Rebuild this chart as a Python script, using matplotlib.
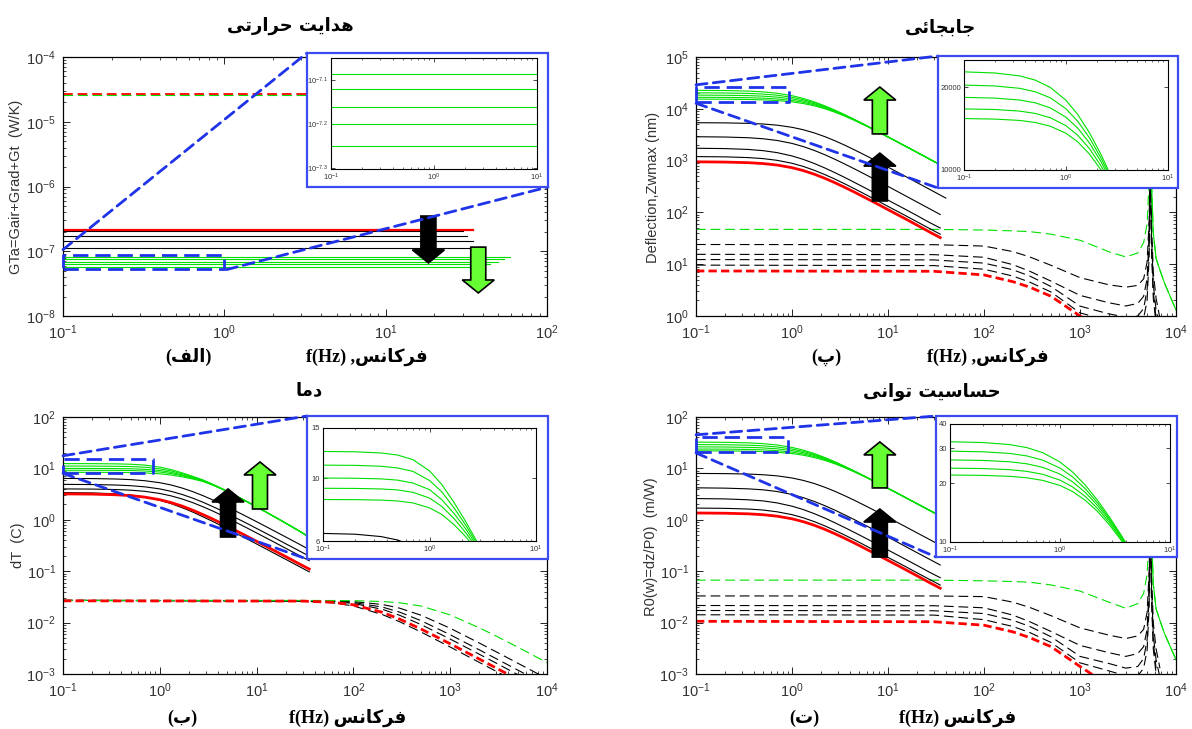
import numpy as np
import matplotlib
matplotlib.use('Agg')
import matplotlib.pyplot as plt
from matplotlib.patches import Rectangle, Polygon, ConnectionPatch
from matplotlib.ticker import LogLocator, NullFormatter, FixedLocator, FixedFormatter, NullLocator

nan = np.nan

# ======================= DATA =======================
# ---- (a) thermal conductance GTa: flat levels and end frequencies ----
tl_start = 0.1
tl_red_level = 2.1e-7
tl_red_end = 35
tl_black_levels = [2.02e-7, 1.74e-7, 1.46e-7, 1.12e-7]
tl_black_ends = [30, 32, 35, 35]
tl_green_levels = [8.18e-8, 7.55e-8, 6.89e-8, 6.31e-8, 5.62e-8]
tl_green_ends = [59, 54, 49.5, 44.6, 41]
tl_dash_red = 2.67e-5
tl_dash_green = 2.6e-5
tl_dash_end = 100

# ---- solid-curve frequency grid (Hz) ----
f_solid = [0.1, 0.2, 0.35, 0.5, 0.7, 1, 1.3, 1.7, 2.2, 2.8,
           3.5, 4.5, 6, 8, 11, 15, 20, 27, 35, 40]

# ---- (p) deflection, solid ----
tr_green = [
    [22730, 22520, 21980, 21210, 19970, 17910, 15930, 13650, 11400, 9420,
     7780, 6190, 4720, 3575, 2615, 1924, 1446, 1071, 827, 723],
    [20350, 20200, 19810, 19240, 18300, 16680, 15050, 13080, 11060, 9230,
     7670, 6140, 4700, 3565, 2611, 1923, 1445, 1071, 827, 724],
    [18360, 18250, 17960, 17540, 16820, 15550, 14210, 12530, 10730, 9040,
     7570, 6100, 4690, 3565, 2616, 1928, 1448, 1075, 830, 726],
    [16670, 16590, 16370, 16050, 15490, 14480, 13380, 11950, 10360, 8820,
     7430, 6020, 4650, 3550, 2610, 1925, 1448, 1074, 830, 726],
    [15380, 15310, 15140, 14880, 14430, 13600, 12670, 11420, 10010, 8580,
     7290, 5940, 4600, 3520, 2590, 1915, 1441, 1070, 826, 723],
]
tr_black = [
    [5387, 5346, 5239, 5086, 4830, 4394, 3957, 3433, 2899, 2415,
     2006, 1604, 1227, 931, 682, 502, 377, 280, 216, 189],
    [2888, 2853, 2763, 2640, 2447, 2146, 1873, 1575, 1297, 1060,
     869, 688, 523, 395, 289, 212, 159, 118, 91, nan],
    [1731, 1706, 1642, 1556, 1425, 1230, 1061, 882, 720, 585,
     478, 377, 286, 216, 157, 116, 87, 64, 50, nan],
    [1195, 1181, 1143, 1092, 1012, 888, 775, 652, 537, 439,
     360, 285, 216, 163, 119, 88, 66, 49, 38, nan],
]
tr_red = [947, 937, 912, 877, 821, 730, 644, 548, 455, 374,
          308, 245, 186, 141, 103, 76, 57, 42, 32.6, nan]

# ---- (t) power sensitivity, solid ----
br_green = [
    [32.47, 32.17, 31.4, 30.3, 28.53, 25.59, 22.76, 19.5, 16.29, 13.46,
     11.11, 8.84, 6.74, 5.11, 3.74, 2.75, 2.07, 1.53, 1.18, 1.03],
    [29.07, 28.86, 28.3, 27.49, 26.14, 23.83, 21.5, 18.69, 15.8, 13.19,
     10.96, 8.77, 6.71, 5.09, 3.73, 2.75, 2.06, 1.53, 1.18, 1.03],
    [26.23, 26.07, 25.66, 25.06, 24.03, 22.21, 20.3, 17.9, 15.33, 12.91,
     10.81, 8.71, 6.7, 5.09, 3.74, 2.75, 2.07, 1.54, 1.19, 1.04],
    [23.81, 23.7, 23.39, 22.93, 22.13, 20.69, 19.11, 17.07, 14.8, 12.6,
     10.61, 8.6, 6.64, 5.07, 3.73, 2.75, 2.07, 1.53, 1.19, 1.04],
    [21.97, 21.87, 21.63, 21.26, 20.61, 19.43, 18.1, 16.31, 14.3, 12.26,
     10.41, 8.49, 6.57, 5.03, 3.7, 2.74, 2.06, 1.53, 1.18, 1.03],
]
br_black = [
    [7.98, 7.92, 7.76, 7.53, 7.16, 6.51, 5.86, 5.09, 4.29, 3.58,
     2.97, 2.38, 1.82, 1.38, 1.01, 0.744, 0.559, 0.415, 0.32, nan],
    [4.19, 4.13, 4.0, 3.83, 3.55, 3.11, 2.71, 2.28, 1.88, 1.54,
     1.26, 1.0, 0.758, 0.572, 0.419, 0.307, 0.23, 0.171, 0.132, nan],
    [2.59, 2.55, 2.45, 2.33, 2.13, 1.84, 1.59, 1.32, 1.08, 0.874,
     0.714, 0.564, 0.428, 0.323, 0.235, 0.173, 0.13, 0.0957, 0.0747, nan],
    [1.69, 1.67, 1.62, 1.55, 1.43, 1.26, 1.1, 0.924, 0.761, 0.622,
     0.51, 0.404, 0.306, 0.231, 0.169, 0.125, 0.0935, 0.0694, 0.0538, nan],
]
br_red = [1.357, 1.342, 1.307, 1.256, 1.176, 1.046, 0.923, 0.785, 0.652, 0.536,
          0.441, 0.351, 0.266, 0.202, 0.148, 0.109, 0.0817, 0.0602, 0.0467, nan]

# ---- (b) temperature, solid ----
bl_green = [
    [12.4, 12.37, 12.25, 12.05, 11.6, 10.6, 9.5, 8.2, 7.0, 5.95,
     4.95, 3.95, 3.0, 2.25, 1.62, 1.17, 0.86, 0.62, 0.46, nan],
    [11.1, 11.08, 11.0, 10.85, 10.55, 9.8, 8.95, 7.85, 6.8, 5.85,
     4.9, 3.93, 2.99, 2.25, 1.62, 1.17, 0.86, 0.62, 0.46, nan],
    [10.0, 9.98, 9.93, 9.83, 9.6, 9.1, 8.4, 7.5, 6.6, 5.75,
     4.85, 3.91, 2.98, 2.24, 1.62, 1.17, 0.86, 0.62, 0.46, nan],
    [9.2, 9.19, 9.15, 9.08, 8.9, 8.5, 7.95, 7.2, 6.4, 5.65,
     4.8, 3.89, 2.97, 2.24, 1.62, 1.17, 0.86, 0.62, 0.46, nan],
    [8.4, 8.39, 8.36, 8.3, 8.17, 7.85, 7.45, 6.85, 6.2, 5.55,
     4.75, 3.87, 2.96, 2.23, 1.62, 1.17, 0.86, 0.62, 0.46, nan],
]
bl_black = [
    [6.38, 6.34, 6.22, 6.05, 5.76, 5.27, 4.77, 4.15, 3.52, 2.94,
     2.45, 1.96, 1.5, 1.14, 0.837, 0.616, 0.463, 0.343, 0.265, nan],
    [4.89, 4.85, 4.75, 4.61, 4.38, 3.99, 3.59, 3.11, 2.63, 2.19,
     1.82, 1.46, 1.11, 0.845, 0.619, 0.456, 0.342, 0.254, 0.196, nan],
    [3.99, 3.96, 3.88, 3.77, 3.58, 3.25, 2.93, 2.54, 2.15, 1.79,
     1.49, 1.19, 0.909, 0.69, 0.505, 0.372, 0.279, 0.207, 0.16, nan],
    [3.38, 3.33, 3.21, 3.04, 2.79, 2.40, 2.07, 1.72, 1.41, 1.14,
     0.934, 0.737, 0.559, 0.422, 0.308, 0.226, 0.17, 0.126, 0.097, nan],
]
bl_red = [3.19, 3.16, 3.07, 2.95, 2.76, 2.46, 2.17, 1.85, 1.53, 1.26,
          1.04, 0.825, 0.628, 0.475, 0.347, 0.255, 0.192, 0.142, 0.11, nan]

# ---- (b) temperature, dashed ----
f_bl_dash = [0.1, 30, 60, 100, 200, 300, 500, 1000, 2000, 3000, 5000, 7000, 10000]
bl_green_d = [0.027, 0.027, 0.0269, 0.0267, 0.0257, 0.0243, 0.021, 0.0141, 0.0079, 0.00545, 0.00332, 0.00238, 0.00167]
bl_black_d = [
    [0.027, 0.0268, 0.0265, 0.0256, 0.0225, 0.0191, 0.0139, 0.00776, 0.004, 0.00269, 0.00162, 0.00116, 0.00081],
    [0.027, 0.0267, 0.026, 0.0246, 0.02, 0.016, 0.0109, 0.0058, 0.00295, 0.00198, 0.00119, 0.00085, 0.0006],
    [0.027, 0.0266, 0.0256, 0.0236, 0.0181, 0.0139, 0.00915, 0.00478, 0.00242, 0.00162, 0.00097, 0.0007, nan],
    [0.027, 0.0262, 0.0243, 0.0211, 0.0143, 0.0104, 0.00655, 0.00335, 0.00168, 0.00112, 0.00068, nan, nan],
]
bl_red_d = [0.0265, 0.0262, 0.0249, 0.0222, 0.0158, 0.0117, 0.0075, 0.00387, 0.00195, 0.0013, 0.00078, nan, nan]

# ---- (p) / (t) dashed, with resonance near 5.4 kHz ----
f_res_dash = [0.1, 30, 100, 200, 300, 500, 1000, 2000, 3000, 4000, 4600, 5000,
              5250, 5400, 5550, 5800, 6200, 6800, 7600, 10000]
tr_green_d = [47, 47, 45.7, 44, 42.5, 38, 29, 17.4, 13.8, 16.5, 26, 60, 400, 3000, 400, 40, 13, 7.7, 4.3, 1.3]
tr_black_d = [
    [24, 23.8, 22.4, 17.5, 13.8, 9.5, 5.5, 4.0, 3.6, 3.9, 5.2, 11, 70, 1500, 70, 7, 2.2, 0.9, nan, nan],
    [15.5, 15.3, 13.6, 9.8, 7.3, 4.7, 2.5, 1.8, 1.56, 1.75, 2.4, 5.2, 35, 1200, 40, 4, 1.3, 0.6, nan, nan],
    [12.3, 12.1, 10.5, 7.8, 5.9, 3.7, 1.55, 1.1, 0.95, 1.0, 1.4, 3.2, 22, 1000, 28, 3, 0.9, nan, nan, nan],
    [9.6, 9.4, 8.0, 5.9, 4.5, 2.9, 1.15, 0.8, 0.66, 0.66, 0.9, 2.0, 14, 800, 20, 2.2, 0.7, nan, nan, nan],
]
tr_red_d = [7.4, 7.3, 6.2, 4.6, 3.6, 2.4, 1.0, 0.45, nan, nan, nan, nan, nan, nan, nan, nan, nan, nan, nan, nan]

br_green_d = [0.067, 0.067, 0.065, 0.063, 0.061, 0.054, 0.041, 0.025, 0.019, 0.0235, 0.037, 0.086,
              0.57, 4.3, 0.57, 0.057, 0.0186, 0.011, 0.0061, 0.0019]
br_black_d = [
    [0.033, 0.033, 0.032, 0.025, 0.0197, 0.0136, 0.0079, 0.0057, 0.0049, 0.0055, 0.0074, 0.0157,
     0.1, 2.1, 0.1, 0.01, 0.0031, 0.0013, nan, nan],
    [0.0215, 0.0213, 0.0194, 0.014, 0.0104, 0.0067, 0.0036, 0.0026, 0.0022, 0.0025, 0.0034, 0.0074,
     0.05, 1.7, 0.057, 0.0057, 0.0019, 0.00086, nan, nan],
    [0.0172, 0.017, 0.015, 0.0111, 0.0084, 0.0053, 0.0022, 0.0016, 0.0013, 0.0014, 0.002, 0.0046,
     0.031, 1.4, 0.04, 0.0043, 0.0013, nan, nan, nan],
    [0.0142, 0.014, 0.0114, 0.0084, 0.0064, 0.0041, 0.00165, 0.00115, 0.00092, 0.00092, 0.0013, 0.0029,
     0.02, 1.1, 0.029, 0.0031, 0.001, nan, nan, nan],
]
br_red_d = [0.0106, 0.0104, 0.0089, 0.0066, 0.0051, 0.0034, 0.0014, 0.0006, nan, nan, nan, nan,
            nan, nan, nan, nan, nan, nan, nan, nan]

# ---- text ----
title_tl = 'هدایت حرارتی'
title_tr = 'جابجائی'
title_bl = 'دما'
title_br = 'حساسیت توانی'
freq_word = 'فرکانس'
tag_tl, tag_tr, tag_bl, tag_br = '(الف)', '(پ)', '(ب)', '(ت)'
ylab_tl = 'GTa=Gair+Grad+Gt  (W/K)'
ylab_tr = 'Deflection,Zwmax (nm)'
ylab_bl = 'dT  (C)'
ylab_br = 'R0(w)=dz/P0)  (m/W)'

# ======================= Persian shaping (visual order) =======================
FORMS = {
    'ا': ('\uFE8D', '\uFE8E', None, None),
    'ب': ('\uFE8F', '\uFE90', '\uFE91', '\uFE92'),
    'پ': ('\uFB56', '\uFB57', '\uFB58', '\uFB59'),
    'ت': ('\uFE95', '\uFE96', '\uFE97', '\uFE98'),
    'ج': ('\uFE9D', '\uFE9E', '\uFE9F', '\uFEA0'),
    'ح': ('\uFEA1', '\uFEA2', '\uFEA3', '\uFEA4'),
    'د': ('\uFEA9', '\uFEAA', None, None),
    'ر': ('\uFEAD', '\uFEAE', None, None),
    'س': ('\uFEB1', '\uFEB2', '\uFEB3', '\uFEB4'),
    'ف': ('\uFED1', '\uFED2', '\uFED3', '\uFED4'),
    'ک': ('\uFB8E', '\uFB8F', '\uFB90', '\uFB91'),
    'ل': ('\uFEDD', '\uFEDE', '\uFEDF', '\uFEE0'),
    'م': ('\uFEE1', '\uFEE2', '\uFEE3', '\uFEE4'),
    'ن': ('\uFEE5', '\uFEE6', '\uFEE7', '\uFEE8'),
    'ه': ('\uFEE9', '\uFEEA', '\uFEEB', '\uFEEC'),
    'و': ('\uFEED', '\uFEEE', None, None),
    'ئ': ('\uFE89', '\uFE8A', '\uFE8B', '\uFE8C'),
    'ی': ('\uFBFC', '\uFBFD', '\uFBFE', '\uFBFF'),
}


def shape(s):
    out = []
    for i, c in enumerate(s):
        if c not in FORMS:
            out.append(c)
            continue
        prev = s[i - 1] if i > 0 else None
        nxt = s[i + 1] if i + 1 < len(s) else None
        jp = prev in FORMS and FORMS[prev][2] is not None
        jn = FORMS[c][2] is not None and nxt in FORMS
        iso, fin, ini, med = FORMS[c]
        out.append(med if (jp and jn) else fin if jp else ini if jn else iso)
    return ''.join(out)


def rtl(s):
    return shape(s)[::-1].translate(str.maketrans('()', ')('))


# ======================= styling =======================
plt.rcParams['font.family'] = ['Liberation Sans', 'DejaVu Sans']
plt.rcParams['mathtext.fontset'] = 'custom'
plt.rcParams['mathtext.rm'] = 'Liberation Sans'
plt.rcParams['mathtext.it'] = 'Liberation Sans:italic'
plt.rcParams['lines.scale_dashes'] = False

GREEN = '#00e000'
BLACK = '#000000'
RED = '#ff0000'
BLUE = '#1f33e8'
BOXBLUE = '#3c4cf0'
ARROW_GREEN = '#66ff33'
DASH = (0, (7, 3.5))
RDASH = (0, (6, 3))

W, H = 1192, 729
fig = plt.figure(figsize=(W / 100, H / 100), dpi=100)
fig.patch.set_facecolor('white')


def px_rect(l, t, r, b):
    return [l / W, 1 - b / H, (r - l) / W, (b - t) / H]


def make_main(rect, xlim, ylim):
    ax = fig.add_axes(px_rect(*rect))
    ax.set_xscale('log')
    ax.set_yscale('log')
    ax.set_xlim(*xlim)
    ax.set_ylim(*ylim)
    for a in (ax.xaxis, ax.yaxis):
        a.set_major_locator(LogLocator(base=10, numticks=30))
        a.set_minor_locator(LogLocator(base=10, subs=np.arange(2, 10) * 1.0, numticks=300))
        a.set_minor_formatter(NullFormatter())
    ax.tick_params(which='both', direction='in', top=True, right=True)
    ax.tick_params(which='major', length=5, width=0.6, labelsize=10.5, labelcolor='#333333', pad=5)
    ax.tick_params(which='minor', length=2.5, width=0.5)
    for s in ax.spines.values():
        s.set_linewidth(0.9)
    return ax


def make_inset(outer, inner, ylim, yticks, ylabels):
    l, t, r, b = outer
    fig.add_artist(Rectangle((l / W, 1 - b / H), (r - l) / W, (b - t) / H,
                             transform=fig.transFigure, facecolor='white',
                             edgecolor=BOXBLUE, lw=1.6, zorder=2))
    ax = fig.add_axes(px_rect(*inner))
    ax.set_zorder(3)
    ax.set_xscale('log')
    ax.set_yscale('log')
    ax.set_xlim(0.1, 10)
    ax.set_ylim(*ylim)
    ax.xaxis.set_major_locator(FixedLocator([0.1, 1, 10]))
    ax.xaxis.set_major_formatter(FixedFormatter(['$10^{-1}$', '$10^{0}$', '$10^{1}$']))
    ax.xaxis.set_minor_locator(LogLocator(base=10, subs=np.arange(2, 10) * 1.0, numticks=100))
    ax.xaxis.set_minor_formatter(NullFormatter())
    ax.yaxis.set_major_locator(FixedLocator(yticks))
    ax.yaxis.set_major_formatter(FixedFormatter(ylabels))
    ax.yaxis.set_minor_locator(NullLocator())
    ax.tick_params(which='both', direction='in', top=True, right=True)
    ax.tick_params(which='major', length=3, width=0.5, labelsize=5.5, labelcolor='#333333', pad=2)
    ax.tick_params(which='minor', length=1.5, width=0.4)
    for s in ax.spines.values():
        s.set_linewidth(0.8)
    return ax


def draw_solid(ax, f, greens, blacks, red):
    for c in blacks:
        ax.plot(f, c, color=BLACK, lw=0.8)
    for c in greens:
        ax.plot(f, c, color=GREEN, lw=0.8)
    ax.plot(f, red, color=RED, lw=2.0)


def draw_dashed(ax, f, green, blacks, red, solid_tail_from=None):
    for c in blacks:
        ax.plot(f, c, color=BLACK, lw=0.8, ls=DASH)
    ax.plot(f, green, color=GREEN, lw=0.8, ls=DASH)
    if solid_tail_from is not None:
        ax.plot(f[solid_tail_from:], green[solid_tail_from:], color=GREEN, lw=0.8)
    ax.plot(f, red, color=RED, lw=2.0, ls=RDASH)


def draw_tl(ax):
    ax.plot([tl_start, tl_dash_end], [tl_dash_green, tl_dash_green], color=GREEN, lw=0.8, ls=DASH)
    ax.plot([tl_start, tl_dash_end], [tl_dash_red, tl_dash_red], color=RED, lw=1.3, ls=DASH)
    for v, e in zip(tl_black_levels, tl_black_ends):
        ax.plot([tl_start, e], [v, v], color=BLACK, lw=0.8)
    for v, e in zip(tl_green_levels, tl_green_ends):
        ax.plot([tl_start, e], [v, v], color=GREEN, lw=0.8)
    ax.plot([tl_start, tl_red_end], [tl_red_level, tl_red_level], color=RED, lw=1.6)


def arrow(ax, xc, y0, y1, fc):
    bb = ax.get_window_extent()
    ws, wh, hl = 7.5 / bb.width, 16 / bb.width, 13 / bb.height
    sg = 1 if y1 > y0 else -1
    yb = y1 - sg * hl
    pts = [(xc - ws, y0), (xc - ws, yb), (xc - wh, yb), (xc, y1),
           (xc + wh, yb), (xc + ws, yb), (xc + ws, y0)]
    ax.add_patch(Polygon(pts, closed=True, transform=ax.transAxes, facecolor=fc,
                         edgecolor='black', lw=1.2, zorder=6, clip_on=False))


def zoom_box(ax, x0, x1, y0, y1):
    ax.plot([x0, x1, x1, x0, x0], [y0, y0, y1, y1, y0], color=BLUE, lw=2.0,
            ls=(0, (11, 5)), zorder=7, clip_on=False)


def connect(ax, xy, px):
    con = ConnectionPatch(xyA=xy, coordsA=ax.transData, xyB=(px[0], H - px[1]),
                          coordsB='figure pixels', color=BLUE, lw=2.0,
                          linestyle=(0, (8, 4.5)), zorder=1.5)
    fig.add_artist(con)


# ======================= panels =======================
# layout in pixels: (left, top, right, bottom)
R_TL = (63, 57, 547, 316)
R_TR = (696, 57, 1176, 316)
R_BL = (63, 417, 547, 674)
R_BR = (696, 417, 1176, 674)

ax_tl = make_main(R_TL, (0.1, 100), (1e-8, 1e-4))
ax_tr = make_main(R_TR, (0.1, 1e4), (1, 1e5))
ax_bl = make_main(R_BL, (0.1, 1e4), (1e-3, 1e2))
ax_br = make_main(R_BR, (0.1, 1e4), (1e-3, 1e2))

draw_tl(ax_tl)
draw_dashed(ax_tr, f_res_dash, tr_green_d, tr_black_d, tr_red_d, solid_tail_from=13)
draw_solid(ax_tr, f_solid, tr_green, tr_black, tr_red)
draw_dashed(ax_bl, f_bl_dash, bl_green_d, bl_black_d, bl_red_d)
draw_solid(ax_bl, f_solid, bl_green, bl_black, bl_red)
draw_dashed(ax_br, f_res_dash, br_green_d, br_black_d, br_red_d, solid_tail_from=13)
draw_solid(ax_br, f_solid, br_green, br_black, br_red)

# insets
O_TL, I_TL = (307, 53, 548, 187), (331, 58, 537, 169)
O_TR, I_TR = (938, 56, 1178, 188), (964, 60, 1168, 170)
O_BL, I_BL = (307, 416, 548, 559), (323, 428, 536, 541)
O_BR, I_BR = (936, 416, 1177, 557), (950, 424, 1170, 542)

in_tl = make_inset(O_TL, I_TL, (10 ** -7.302, 10 ** -7.051),
                   [10 ** -7.3, 10 ** -7.2, 10 ** -7.1], ['$10^{-7.3}$', '$10^{-7.2}$', '$10^{-7.1}$'])
draw_tl(in_tl)
in_tr = make_inset(O_TR, I_TR, (1e4, 2.51e4), [10000, 20000], ['10000', '20000'])
draw_solid(in_tr, f_solid, tr_green, tr_black, tr_red)
in_bl = make_inset(O_BL, I_BL, (6, 15), [6, 10, 15], ['6', '10', '15'])
draw_solid(in_bl, f_solid, bl_green, bl_black, bl_red)
in_br = make_inset(O_BR, I_BR, (10, 40), [10, 20, 30, 40], ['10', '20', '30', '40'])
draw_solid(in_br, f_solid, br_green, br_black, br_red)

# zoom boxes and connector lines
zoom_box(ax_tl, 0.1, 1.0, 5.4e-8, 8.9e-8)
connect(ax_tl, (0.1, 1.06e-7), (O_TL[0], O_TL[1]))
connect(ax_tl, (1.03, 5.2e-8), (O_TL[2], O_TL[3]))

zoom_box(ax_tr, 0.1, 0.92, 13300, 26000)
connect(ax_tr, (0.1, 29000), (O_TR[0], O_TR[1]))
connect(ax_tr, (0.1, 12800), (O_TR[0], O_TR[3]))

zoom_box(ax_bl, 0.1, 0.86, 8.0, 14.9)
connect(ax_bl, (0.1, 17.6), (O_BL[0], O_BL[1]))
connect(ax_bl, (0.1, 8.0), (O_BL[0], O_BL[3]))

zoom_box(ax_br, 0.1, 0.9, 21, 41)
connect(ax_br, (0.1, 45), (O_BR[0], O_BR[1]))
connect(ax_br, (0.1, 20), (O_BR[0], O_BR[3]))

# arrows (axes fraction)
arrow(ax_tl, 0.755, 0.386, 0.205, 'black')
arrow(ax_tl, 0.858, 0.266, 0.089, ARROW_GREEN)
arrow(ax_tr, 0.383, 0.703, 0.884, ARROW_GREEN)
arrow(ax_tr, 0.383, 0.444, 0.629, 'black')
arrow(ax_bl, 0.341, 0.533, 0.720, 'black')
arrow(ax_bl, 0.407, 0.642, 0.825, ARROW_GREEN)
arrow(ax_br, 0.383, 0.724, 0.903, ARROW_GREEN)
arrow(ax_br, 0.383, 0.455, 0.642, 'black')

# ======================= texts =======================
def ftext(x, y, s, **kw):
    fig.text(x / W, 1 - y / H, s, ha='center', va='center', **kw)


TFONT = dict(family=['DejaVu Sans'], fontweight='bold', fontsize=13)
ftext(290, 26, rtl(title_tl), **TFONT)
ftext(940, 28, rtl(title_tr), **TFONT)
ftext(309, 390, rtl(title_bl), **TFONT)
ftext(932, 392, rtl(title_br), **TFONT)

XFONT = dict(family=['Liberation Serif', 'DejaVu Sans'], fontweight='bold', fontsize=13)
ftext(367, 357, 'f(Hz) ,' + rtl(freq_word), **XFONT)
ftext(188, 357, rtl(tag_tl), **XFONT)
ftext(988, 357, 'f(Hz) ,' + rtl(freq_word), **XFONT)
ftext(826, 357, rtl(tag_tr), **XFONT)
ftext(348, 718, 'f(Hz) ' + rtl(freq_word), **XFONT)
ftext(182, 718, rtl(tag_bl), **XFONT)
ftext(958, 718, 'f(Hz) ' + rtl(freq_word), **XFONT)
ftext(804, 718, rtl(tag_br), **XFONT)

YFONT = dict(fontsize=10.5, color='#333333', rotation=90)
ftext(16, 187, ylab_tl, **YFONT)
ftext(653, 187, ylab_tr, **YFONT)
ftext(18, 545, ylab_bl, **YFONT)
ftext(651, 547, ylab_br, **YFONT)

fig.savefig('out.png', dpi=100)
